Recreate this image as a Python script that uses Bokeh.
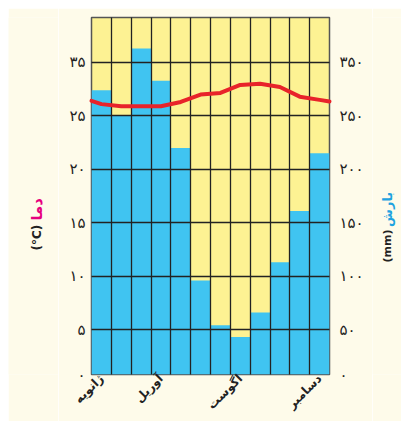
import math
from bokeh.plotting import figure
from bokeh.layouts import row
from bokeh.models import FixedTicker, LinearAxis, Label, Range1d
from bokeh.embed import file_html
from bokeh.resources import INLINE

# ---- data ----
months = ["ژانویه", "فوریه", "مارس", "آوریل", "مه", "ژوئن", "ژوئیه",
          "اگوست", "سپتامبر", "اکتبر", "نوامبر", "دسامبر"]
shown_months = [0, 3, 7, 11]
rain_mm = [274, 250, 313, 283, 220, 96, 54, 43, 66, 113, 161, 215]
# temperature: start of Jan, mid of each month, end of Dec
temp_c = [26.4, 26.1, 25.9, 25.9, 25.9, 26.3, 27.0, 27.15, 27.9, 28.0, 27.7, 26.8, 26.5, 26.35]
rain_ticks = [50, 100, 150, 200, 250, 300]
temp_tick_labels = ["۵", "۱۰", "۱۵", "۲۰", "۲۵", "۳۵"]
rain_tick_labels = ["۵۰", "۱۰۰", "۱۵۰", "۲۰۰", "۲۵۰", "۳۵۰"]
zero_label = "۰"
temp_title = ["دما", "(°C)"]
rain_title = ["بارش", "(mm)"]

# ---- style ----
CREAM = "#fefbea"
YELLOW = "#fdf293"
BLUE = "#40c4f1"
RED = "#e8232a"
MAGENTA = "#e6007e"
TBLUE = "#1fa3e0"
FONT = "DejaVu Sans"
Y0, Y1 = 7.9, 342.1
TOP, BOTTOM = 9, 47

yr = Range1d(Y0, Y1)

p = figure(width=314, height=413, output_backend="svg", toolbar_location=None,
           x_range=Range1d(0, 12), y_range=yr,
           min_border_left=33, min_border_right=43, min_border_top=TOP,
           min_border_bottom=BOTTOM)
p.background_fill_color = YELLOW
p.border_fill_color = CREAM
p.outline_line_color = "#555555"
p.outline_line_width = 1.5

lefts = list(range(len(months)))
p.quad(left=lefts, right=[i + 1 for i in lefts], bottom=Y0, top=rain_mm,
       fill_color=BLUE, line_color=None)

line_x = [0] + [i + 0.5 for i in lefts] + [len(months)]
r = p.line(line_x, [t * 10 for t in temp_c], line_color=RED, line_width=4,
           line_cap="round", line_join="round")
r.level = "annotation"

# grids
p.xgrid.ticker = FixedTicker(ticks=list(range(1, len(months))))
for g in (p.xgrid, p.ygrid):
    g.grid_line_color = "#222222"
    g.grid_line_width = 1.3
    g.level = "guide"

# left axis
yt = [Y0] + rain_ticks
p.yaxis.ticker = FixedTicker(ticks=yt)
ov = {Y0: zero_label}
ov.update({v: s for v, s in zip(rain_ticks, temp_tick_labels)})
p.yaxis.major_label_overrides = ov

# right axis
ra = LinearAxis(ticker=FixedTicker(ticks=yt))
ov2 = {Y0: zero_label}
ov2.update({v: s for v, s in zip(rain_ticks, rain_tick_labels)})
ra.major_label_overrides = ov2
p.add_layout(ra, "right")

# bottom axis
p.xaxis.ticker = FixedTicker(ticks=[i + 0.5 for i in shown_months])
p.xaxis.major_label_overrides = {i + 0.5: months[i] for i in shown_months}
p.xaxis.major_label_orientation = math.pi / 4

for ax in p.axis:
    ax.axis_line_color = None
    ax.major_tick_line_color = None
    ax.minor_tick_line_color = None
    ax.major_label_text_font = FONT
    ax.major_label_text_font_size = "15px"
    ax.major_label_text_color = "#222222"
    ax.major_tick_out = 0
    ax.major_tick_in = 0
p.yaxis[0].major_label_standoff = 6
ra.major_label_standoff = 10
p.xaxis.major_label_standoff = 2
p.xaxis.major_label_text_font_size = "12px"
p.xaxis.major_label_text_font_style = "bold"


# side strips holding the vertical axis titles
def side(width, xc, parts, colors, offsets, sizes):
    s = figure(width=width, height=413, output_backend="svg", toolbar_location=None,
               x_range=Range1d(0, 1), y_range=yr, x_axis_location=None,
               y_axis_location=None, min_border_left=0, min_border_right=0,
               min_border_top=TOP, min_border_bottom=BOTTOM)
    s.grid.visible = False
    s.outline_line_color = None
    s.background_fill_color = CREAM
    s.border_fill_color = CREAM
    for text, col, y, fs in zip(parts, colors, offsets, sizes):
        s.add_layout(Label(x=xc, y=y, text=text, angle=math.pi / 2,
                           text_align="left", text_baseline="middle",
                           text_color=col, text_font=FONT, text_font_size=fs,
                           text_font_style="bold"))
    return s


left_strip = side(50, 0.56, temp_title, [MAGENTA, "#222222"], [152, 124],
                  ["15px", "12px"])
right_strip = side(29, 0.52, rain_title, [TBLUE, "#222222"], [146, 112.7],
                   ["13px", "11px"])

layout = row(left_strip, p, right_strip)
layout.margin = (8, 0, 0, 8)

open("out.html", "w").write(file_html(layout, INLINE))
